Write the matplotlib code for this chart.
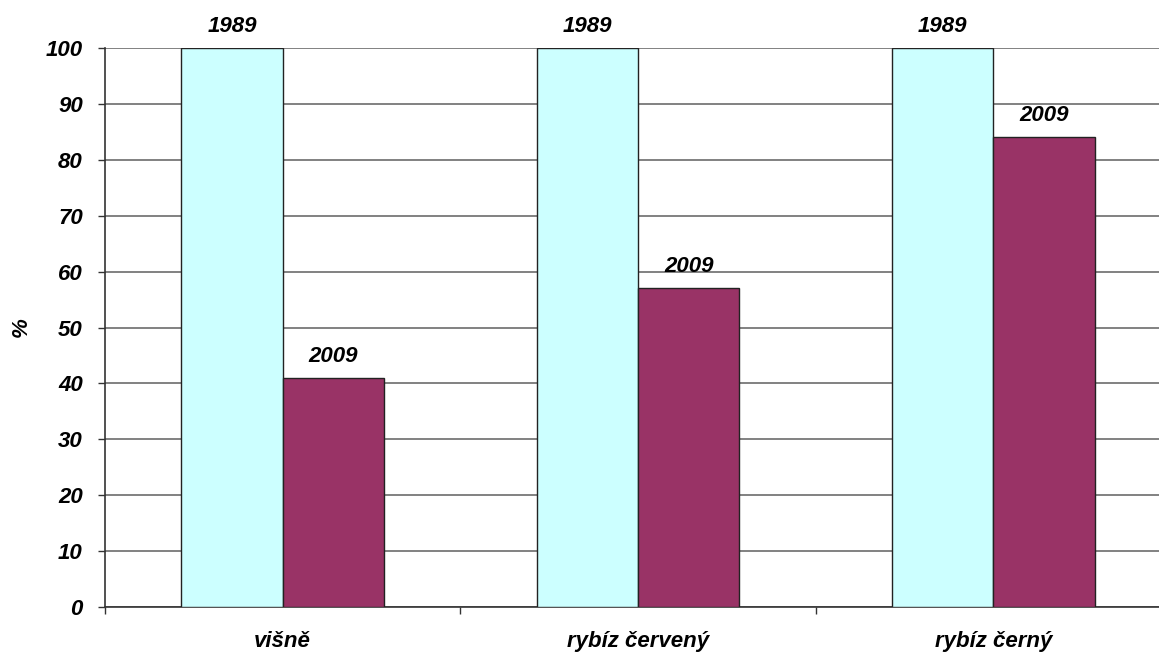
import numpy as np
import matplotlib
matplotlib.use('Agg')
import matplotlib.pyplot as plt

categories = ['višně', 'rybíz červený', 'rybíz černý']
years = ['1989', '2009']
values_1989 = [100, 100, 100]
values_2009 = [41, 57, 84]

plt.rcParams['font.family'] = ['Liberation Sans', 'DejaVu Sans']
fs = 16

fig = plt.figure(figsize=(11.59, 6.53), dpi=100)
# plot area runs past the right edge of the picture, like the original
ax = fig.add_axes([105/1159, 1-607/653, (1171-105)/1159, (607-48)/653])

x = np.arange(len(categories))
w = 0.285
b1 = ax.bar(x - w/2, values_1989, width=w, color='#CCFFFF', edgecolor='#222222', lw=1, zorder=3)
b2 = ax.bar(x + w/2, values_2009, width=w, color='#993366', edgecolor='#222222', lw=1, zorder=3)

for bars, yr in [(b1, years[0]), (b2, years[1])]:
    for r in bars:
        ax.annotate(yr, (r.get_x() + r.get_width()/2, r.get_height()),
                    xytext=(0, 8), textcoords='offset points',
                    ha='center', va='bottom', fontsize=fs,
                    fontweight='bold', fontstyle='italic')

ax.set_xlim(-0.5, 2.5)
ax.set_ylim(0, 100)
ax.set_yticks(np.arange(0, 101, 10))
ax.yaxis.grid(True, color='#777777', lw=1.3, zorder=0)
ax.set_axisbelow(True)

ax.set_xticks(x)
ax.set_xticklabels(categories)
ax.set_xticks([-0.5, 0.5, 1.5, 2.5], minor=True)
ax.tick_params(axis='x', which='major', length=0, pad=17)
ax.tick_params(axis='x', which='minor', length=5, width=1, color='#333333')
ax.tick_params(axis='y', length=5, width=1, color='#333333', pad=11)

for lab in ax.get_xticklabels() + ax.get_yticklabels():
    lab.set_fontsize(fs)
    lab.set_fontweight('bold')
    lab.set_fontstyle('italic')

ax.set_ylabel('%', fontsize=fs, fontweight='bold', fontstyle='italic', labelpad=10)

for s in ['top', 'right']:
    ax.spines[s].set_visible(False)
for s in ['left', 'bottom']:
    ax.spines[s].set_color('#333333')
    ax.spines[s].set_linewidth(1.2)

fig.savefig('out.png', dpi=100)
